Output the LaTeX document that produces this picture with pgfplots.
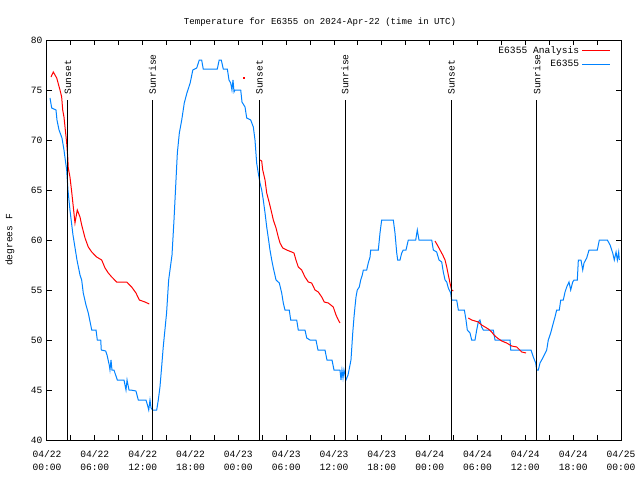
\documentclass[border=0pt]{standalone}
\usepackage{pgfplots}
\pgfplotsset{compat=1.18}
\usepackage{fontspec}
\setmainfont{Liberation Mono}
\definecolor{obsblue}{RGB}{0,130,255}
\begin{document}
\begin{tikzpicture}[x=1pt,y=1pt]
\path[use as bounding box] (-35.25pt,-30pt) rectangle (444.75pt,330pt);
\begin{axis}[
  scale only axis, width=430.5pt, height=300pt,
  at={(0,0)}, anchor=south west,
  xmin=0, xmax=72, ymin=40, ymax=80,
  font=\fontsize{7.2}{8}\selectfont,
  /pgf/number format/assume math mode=true,
  xtick={0,6,...,72},
  xticklabels={{04/22\\00:00},{04/22\\06:00},{04/22\\12:00},{04/22\\18:00},{04/23\\00:00},{04/23\\06:00},{04/23\\12:00},{04/23\\18:00},{04/24\\00:00},{04/24\\06:00},{04/24\\12:00},{04/24\\18:00},{04/25\\00:00}},
  minor xtick={3,9,...,69},
  ytick={40,45,...,80},
  xticklabel style={align=center, font=\fontsize{7.2}{9.5}\selectfont, yshift=-4.5pt},
  tick align=inside, major tick length=3.5pt, minor tick length=3.5pt,
  tick style={black, line width=0.75pt},
  axis line style={line width=0.75pt},
  ylabel={degrees F},
  ylabel style={at={(axis description cs:-0.0645,0.5)}, anchor=center},
  title={Temperature for E6355 on 2024-Apr-22 (time in UTC)},
  title style={at={(axis description cs:0.4756,1)}, anchor=center, yshift=7.5pt, font=\fontsize{6.8}{8}\selectfont},
  legend style={at={(axis description cs:0.985,0.995)}, anchor=north east, draw=none, fill=none,
    row sep=0pt, inner sep=1pt, font=\fontsize{7.2}{8}\selectfont},
  legend cell align=right,
  legend plot pos=right,
  legend image code/.code={\draw[#1] (5pt,0pt) -- (26pt,0pt);},
]
\addplot[red, line width=0.75pt] coordinates {
(0.5,76.3)(0.79,76.8)(1.22,76.2)(1.63,75)(1.84,74.3)(1.97,73)(2.13,72.3)(2.26,71.3)(2.47,69.7)(2.6,68.3)(2.67,67.2)(2.88,66.3)(3.1,64.8)(3.3,63.3)(3.51,61.7)(3.64,62.3)(3.8,63)(4.14,62.3)(4.35,61.5)(4.77,60.2)(5.18,59.3)(5.61,58.8)(6.23,58.3)(6.86,58)(7.28,57.2)(7.69,56.7)(8.12,56.3)(8.74,55.8)(9.37,55.8)(10.0,55.8)(10.62,55.3)(11.16,54.7)(11.58,54)(12.29,53.8)(12.83,53.6)
};
\addlegendentry{E6355 Analysis}
\addplot[obsblue, line width=0.75pt] coordinates {
(0.38,74.2)(0.59,73.2)(1.13,73.0)(1.25,72)(1.51,71)(1.88,70.2)(2.13,69)(2.38,67.5)(2.47,67)(2.63,65)(2.88,63)(3.26,60.5)(3.76,58)(4.14,56.5)(4.35,56)(4.55,54.7)(4.89,53.5)(5.18,52.7)(5.61,51)(6.15,51)(6.31,50)(6.74,50)(6.81,49)(7.36,48.9)(7.53,48.5)(7.81,47.5)(7.9,47)(8.03,48)(8.15,47)(8.4,47)(8.82,46)(9.66,46)(9.91,45)(10.04,46)(10.29,45)(10.5,45)(11.16,44.9)(11.45,44)(12.42,44)(12.6,43.5)(12.76,43)(12.92,44)(13.05,43.2)(13.26,43)(13.76,43)(13.96,44)(14.17,45.3)(14.38,47.3)(14.58,49.3)(15.0,52.7)(15.26,56)(15.68,58.5)(15.93,62)(16.18,66)(16.35,68.7)(16.6,70.7)(16.9,72)(17.22,73.7)(17.55,74.7)(17.96,75.7)(18.29,77)(18.78,77.2)(19.1,78)(19.4,78)(19.6,77.1)(21.36,77.1)(21.6,78)(21.86,78)(22.11,77.1)(22.62,77.1)(22.83,76)(23.04,75.7)(23.2,75)(23.33,76)(23.46,74.8)(23.58,75)(24.3,75)(24.46,73.8)(24.84,73.3)(25.05,72.2)(25.55,72)(25.88,71.3)(26.09,70)(26.3,67.7)(26.5,66.7)(26.72,65.7)(26.93,65)(27.13,64)(27.35,62.7)(27.56,61.3)(27.76,60.2)(27.97,59)(28.19,58)(28.39,57.2)(28.73,56)(29.14,55.7)(29.44,54.7)(29.64,53.7)(29.85,53)(30.39,53)(30.57,52)(31.32,52)(31.52,51)(32.36,51)(32.58,50.2)(32.99,50)(33.74,50)(33.99,49)(34.87,49)(35.12,48)(35.75,48)(36.0,47)(36.75,47)(36.88,46)(37.0,47)(37.13,46.2)(37.25,47)(37.5,46)(37.76,46.5)(38.13,48)(38.35,50.7)(38.51,52.3)(38.63,53.3)(38.76,54.3)(38.92,55)(39.17,55.3)(39.35,56)(39.55,56.5)(39.68,57)(40.1,57)(40.3,57.7)(40.52,58.3)(40.6,59)(41.56,59)(41.77,60.7)(41.98,62)(43.44,62)(43.65,60.7)(43.87,58.7)(43.99,58)(44.28,58)(44.49,58.7)(44.69,59)(45.03,59)(45.32,60)(46.25,60)(46.45,61)(46.66,60)(48.26,60)(48.46,59)(48.88,58.8)(49.17,58)(49.51,57.8)(49.71,56.8)(49.93,56)(50.14,55.8)(50.34,55.2)(50.64,54.7)(50.76,54)(51.39,54)(51.6,53)(52.35,53)(52.56,52)(52.72,51)(53.06,50.7)(53.27,50)(53.69,50)(53.9,51)(54.1,51.8)(54.31,52)(54.52,51.3)(54.73,51)(55.98,51)(56.2,50)(58.08,50)(58.17,49)(60.59,49)(60.71,49)(61.0,48.3)(61.3,47.7)(61.43,47)(61.63,47)(61.84,47.7)(62.05,48)(62.25,48.3)(62.68,49)(62.88,50)(63.18,50.7)(63.51,51.7)(63.72,52.3)(63.93,53)(64.26,53)(64.44,54)(64.76,54)(64.98,54.8)(65.19,55.3)(65.48,55.8)(65.69,55)(65.94,55.8)(66.11,56)(66.52,56)(66.65,58)(66.98,58)(67.2,57)(67.36,57.7)(67.7,58.2)(67.99,59)(69.03,59)(69.28,60)(70.29,60)(70.63,59.5)(70.96,58.7)(71.16,58)(71.38,58.8)(71.54,58)(71.71,58.8)(71.79,58)
};
\addlegendentry{E6355}
\addplot[red, line width=0.75pt, forget plot] coordinates {
(26.72,68)(26.93,67.9)(27.06,67)(27.35,66)(27.56,64.7)(27.89,63.7)(28.19,62.7)(28.39,62)(28.73,61.2)(29.01,60.3)(29.23,59.7)(29.57,59.2)(30.07,59)(30.69,58.8)(30.98,58.7)(31.23,58)(31.52,57.3)(31.95,57)(32.36,56.3)(32.78,55.8)(33.2,55.7)(33.62,55)(34.03,54.8)(34.46,54.3)(34.78,53.8)(35.29,53.7)(35.91,53.3)(36.25,52.5)(36.54,52)(36.75,51.7)
};
\addplot[red, line width=0.75pt, forget plot] coordinates {
(48.67,59.9)(48.96,59.5)(49.3,59)(49.64,58.5)(49.93,58)(50.14,57.3)(50.34,56.5)(50.55,55.7)(50.76,55)(50.97,54.9)
};
\addplot[red, line width=0.75pt, forget plot] coordinates {
(52.85,52.2)(53.27,52)(53.69,51.9)(54.1,51.8)(54.52,51.5)(54.94,51.3)(55.36,51.1)(55.78,50.8)(56.07,50.5)(56.49,50.2)(57.04,49.9)(57.66,49.7)(58.29,49.4)(58.92,49.3)(59.55,48.8)(60.09,48.7)
};
\addplot[red, only marks, mark=square*, mark size=0.4pt, forget plot] coordinates {(24.71,76.2)};
% sunrise / sunset lines
\addplot[black, line width=0.75pt, forget plot] coordinates {(2.63,40)(2.63,74)};
\addplot[black, line width=0.75pt, forget plot] coordinates {(13.23,40)(13.23,74)};
\addplot[black, line width=0.75pt, forget plot] coordinates {(26.66,40)(26.66,74)};
\addplot[black, line width=0.75pt, forget plot] coordinates {(37.38,40)(37.38,74)};
\addplot[black, line width=0.75pt, forget plot] coordinates {(50.74,40)(50.74,74)};
\addplot[black, line width=0.75pt, forget plot] coordinates {(61.46,40)(61.46,74)};
\node[rotate=90, anchor=west, inner sep=0pt] at (axis cs:2.63,74.5) {Sunset};
\node[rotate=90, anchor=west, inner sep=0pt] at (axis cs:13.23,74.5) {Sunrise};
\node[rotate=90, anchor=west, inner sep=0pt] at (axis cs:26.66,74.5) {Sunset};
\node[rotate=90, anchor=west, inner sep=0pt] at (axis cs:37.38,74.5) {Sunrise};
\node[rotate=90, anchor=west, inner sep=0pt] at (axis cs:50.74,74.5) {Sunset};
\node[rotate=90, anchor=west, inner sep=0pt] at (axis cs:61.46,74.5) {Sunrise};
\end{axis}
\end{tikzpicture}
\end{document}
